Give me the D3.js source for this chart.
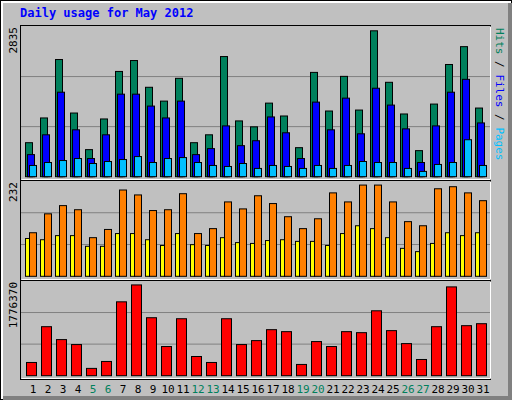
<!DOCTYPE html>
<html><head><meta charset="utf-8">
<script src="https://cdn.jsdelivr.net/npm/d3@7"></script>
<style>body{margin:0;background:#fff}svg{display:block}</style>
</head><body><svg id="c" width="512" height="400"></svg>
<script>
const days = d3.range(1,32).map(String);
const weekend = ["5","6","12","13","19","20","26","27"];
const hits  = [642,1109,2212,1202,511,1090,1987,2193,1688,1427,1857,642,791,2268,1053,941,1389,1146,548,1969,1240,1894,1258,2754,1782,1184,492,1371,2118,2455,1296];
const files = [417,791,1595,885,343,791,1558,1558,1333,1109,1427,417,530,959,586,679,1128,829,343,1408,885,1483,810,1670,1352,903,268,959,1595,1838,1015];
const pages = [212,268,305,343,249,287,324,380,268,343,361,268,212,193,249,156,212,193,156,212,156,212,287,268,268,156,100,231,268,698,212];
const visits= [106,152,172,162,94,114,210,198,160,162,201,104,116,181,164,196,177,145,116,140,203,181,222,222,181,133,123,213,218,203,184];
const sites = [92,89,99,99,73,73,104,104,89,75,104,77,75,94,82,80,87,89,85,85,75,104,123,116,94,68,60,80,106,99,106];
const kbytes= [248000,919000,677000,584000,137000,267000,1385000,1702000,1087000,547000,1068000,360000,248000,1068000,584000,658000,863000,826000,211000,640000,547000,826000,807000,1217000,845000,602000,304000,919000,1665000,938000,975000];
const maxTop=2835, maxMid=232, maxBot=1776370;

const svg=d3.select("#c");
svg.append("rect").attr("width",512).attr("height",400).attr("fill","#000");
svg.append("rect").attr("x",1).attr("y",1).attr("width",510).attr("height",398).attr("fill","#fff");
svg.append("rect").attr("x",3).attr("y",3).attr("width",509).attr("height",397).attr("fill","#808080");
svg.append("rect").attr("x",3).attr("y",3).attr("width",505).attr("height",393).attr("fill","#C0C0C0");

svg.append("text").attr("x",20).attr("y",17).attr("fill","#0000FF")
  .style("font","bold 12px 'DejaVu Sans Mono', monospace").text("Daily usage for May 2012");

const x=d3.scaleBand().domain(days).range([25,490]);
const panels=[{t:25,b:180,base:176.7,max:maxTop},{t:180,b:280,base:276.3,max:maxMid},{t:280,b:379,base:375.7,max:maxBot}];
panels.forEach(p=>{
  svg.append("rect").attr("x",20.5).attr("y",p.t+0.5).attr("width",470).attr("height",p.b-p.t).attr("fill","none").attr("stroke","#000");
  svg.append("path").attr("d",`M21.5,${p.b-0.5}H490.5V${p.t+1.5}`).attr("fill","none").attr("stroke","#fff");
  p.y=d3.scaleLinear().domain([0,p.max]).range([p.base,p.base-(p.base-p.t)*0.99]);
  [1/3,2/3].forEach(f=>svg.append("line").attr("x1",21).attr("x2",490).attr("y1",p.y(p.max*f)).attr("y2",p.y(p.max*f)).attr("stroke","#808080"));
});
function bars(data,p,dx,w,col){
  svg.append("g").selectAll("rect").data(data).join("rect")
    .attr("x",(d,i)=>x(days[i])+dx+0.5).attr("width",w)
    .attr("y",d=>p.y(d)).attr("height",d=>p.base-p.y(d))
    .attr("fill",col).attr("stroke","#000");
}
bars(hits,panels[0],0,7,"#00805C");
bars(files,panels[0],2,7,"#0000FF");
bars(pages,panels[0],4,7,"#00C0FF");
bars(sites,panels[1],0,4,"#FFFF00");
bars(visits,panels[1],4,7,"#FF8000");
bars(kbytes,panels[2],1,10,"#FF0000");

const font="11px 'DejaVu Sans Mono', monospace";
svg.append("g").selectAll("text").data(days).join("text")
  .attr("x",d=>x(d)+8).attr("y",393).attr("text-anchor","middle")
  .attr("fill",d=>weekend.includes(d)?"#00805C":"#000").style("font",font).text(d=>d);
[[maxTop,27],[maxMid,182],[maxBot,282]].forEach(([v,y])=>{
  svg.append("text").attr("transform",`translate(17,${y}) rotate(-90)`).attr("text-anchor","end")
    .style("font",font).attr("fill","#000").text(v);
});
function rlabel(y,parts){
  const t=svg.append("text").attr("transform",`translate(496,${y}) rotate(90)`).style("font",font);
  parts.forEach(([s,c])=>t.append("tspan").attr("fill",c).text(s));
}
rlabel(28,[["Hits","#00805C"],[" / ","#000"],["Files","#0000FF"],[" / ","#000"],["Pages","#00C0FF"]].reverse().reverse());
</script></body></html>
